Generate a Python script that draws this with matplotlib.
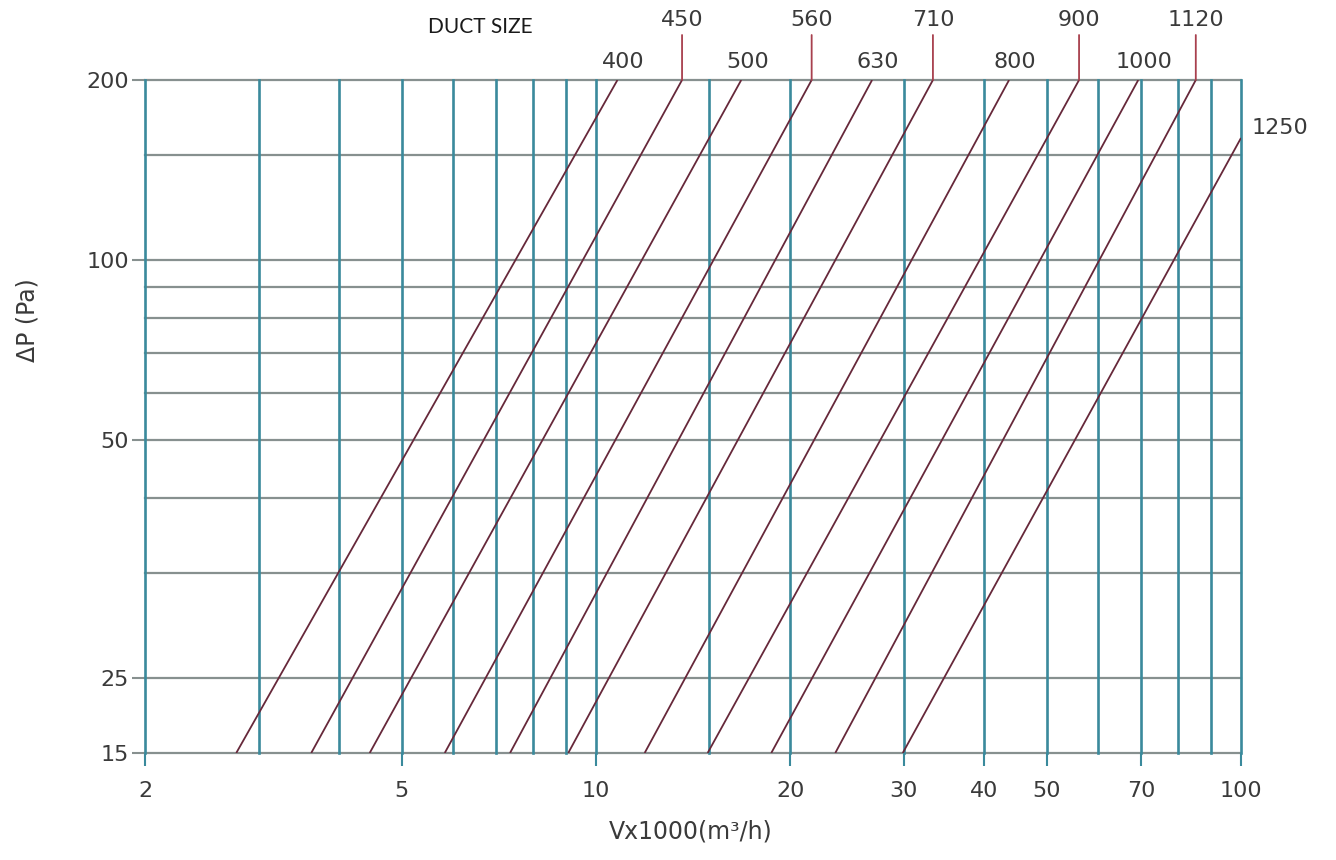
import numpy as np
import matplotlib.pyplot as plt

plt.rcParams['font.family'] = ['DejaVu Sans']

# duct sizes (mm) and the two ends of each pressure-drop line
duct_size = ['400', '450', '500', '560', '630', '710', '800', '900', '1000', '1120', '1250']
v_low = [2.77, 3.62, 4.46, 5.83, 7.36, 9.06, 11.9, 14.9, 18.7, 23.5, 29.9]
dp_low = [15, 15, 15, 15, 15, 15, 15, 15, 15, 15, 15]
v_high = [10.8, 13.6, 16.8, 21.6, 26.8, 33.3, 43.7, 56.1, 69.3, 85.1, 100]
dp_high = [200, 200, 200, 200, 200, 200, 200, 200, 200, 200, 160]

# which labels sit high on a leader, which sit low, which go to the right
leader_sizes = ['450', '560', '710', '900', '1120']
low_sizes = ['400', '500', '630', '800', '1000']

x_grid = [2, 3, 4, 5, 6, 7, 8, 9, 10, 15, 20, 30, 40, 50, 60, 70, 80, 90, 100]
y_grid = [15, 20, 30, 40, 50, 60, 70, 80, 90, 100, 150, 200]
x_ticks = [2, 5, 10, 20, 30, 40, 50, 70, 100]
y_ticks = [15, 20, 50, 100, 200]
y_tick_labels = ['15', '25', '50', '100', '200']

teal = '#3a8a9c'
grey = '#87908f'
line_col = '#66283a'
leader_col = '#a8404e'
text_col = '#3a3a3a'

W, H = 1336, 860
fig = plt.figure(figsize=(W / 100, H / 100), dpi=100)
fig.patch.set_facecolor('white')
ax = fig.add_axes([145 / W, 1 - 753 / H, (1241 - 145) / W, (753 - 80) / H])
ax.set_xscale('log')
ax.set_yscale('log')
ax.set_xlim(2, 100)
ax.set_ylim(15, 200)

#grid
for yv in y_grid:
    ax.axhline(yv, color=grey, lw=1.6, zorder=1, clip_on=False)
for xv in x_grid:
    ax.axvline(xv, color=teal, lw=1.9, zorder=2, clip_on=False)

for s in ax.spines.values():
    s.set_visible(False)

ax.set_xticks(x_ticks, [str(v) for v in x_ticks])
ax.set_xticks([], minor=True)
ax.set_yticks(y_ticks, y_tick_labels)
ax.set_yticks([], minor=True)
ax.tick_params(axis='x', direction='out', length=9, width=1.5, color=teal,
               pad=11, labelsize=16, labelcolor=text_col)
ax.tick_params(axis='y', direction='out', length=9.5, width=1.5, color=grey,
               pad=2, labelsize=16, labelcolor=text_col)

#duct lines
for i in range(len(duct_size)):
    ax.plot([v_low[i], v_high[i]], [dp_low[i], dp_high[i]], color=line_col,
            lw=1.3, zorder=3, solid_capstyle='butt')

#labels
for i in range(len(duct_size)):
    name = duct_size[i]
    if name in leader_sizes:
        ax.annotate('', xy=(v_high[i], dp_high[i]), xytext=(0, 45),
                    textcoords='offset pixels', annotation_clip=False,
                    arrowprops=dict(arrowstyle='-', color=leader_col, lw=1.3,
                                    shrinkA=0, shrinkB=0))
        ax.annotate(name, xy=(v_high[i], dp_high[i]), xytext=(0, 60),
                    textcoords='offset pixels', ha='center', va='center',
                    fontsize=16, color=text_col, annotation_clip=False)
    elif name in low_sizes:
        ax.annotate(name, xy=(v_high[i], dp_high[i]), xytext=(6, 18),
                    textcoords='offset pixels', ha='center', va='center',
                    fontsize=16, color=text_col, annotation_clip=False)
    else:
        ax.annotate(name, xy=(v_high[i], dp_high[i]), xytext=(11, 10),
                    textcoords='offset pixels', ha='left', va='center',
                    fontsize=16, color=text_col, annotation_clip=False)

fig.text(480 / W, 1 - 27 / H, 'DUCT SIZE', ha='center', va='center',
         fontsize=15, family='Lato', color='#1a1a1a')
fig.text(691 / W, 1 - 832 / H, 'Vx1000(m³/h)', ha='center', va='center',
         fontsize=17, color=text_col)
fig.text(27 / W, 1 - 320 / H, 'ΔP (Pa)', ha='center', va='center',
         rotation=90, fontsize=17, color=text_col)

fig.savefig('out.png', dpi=100, facecolor='white')
